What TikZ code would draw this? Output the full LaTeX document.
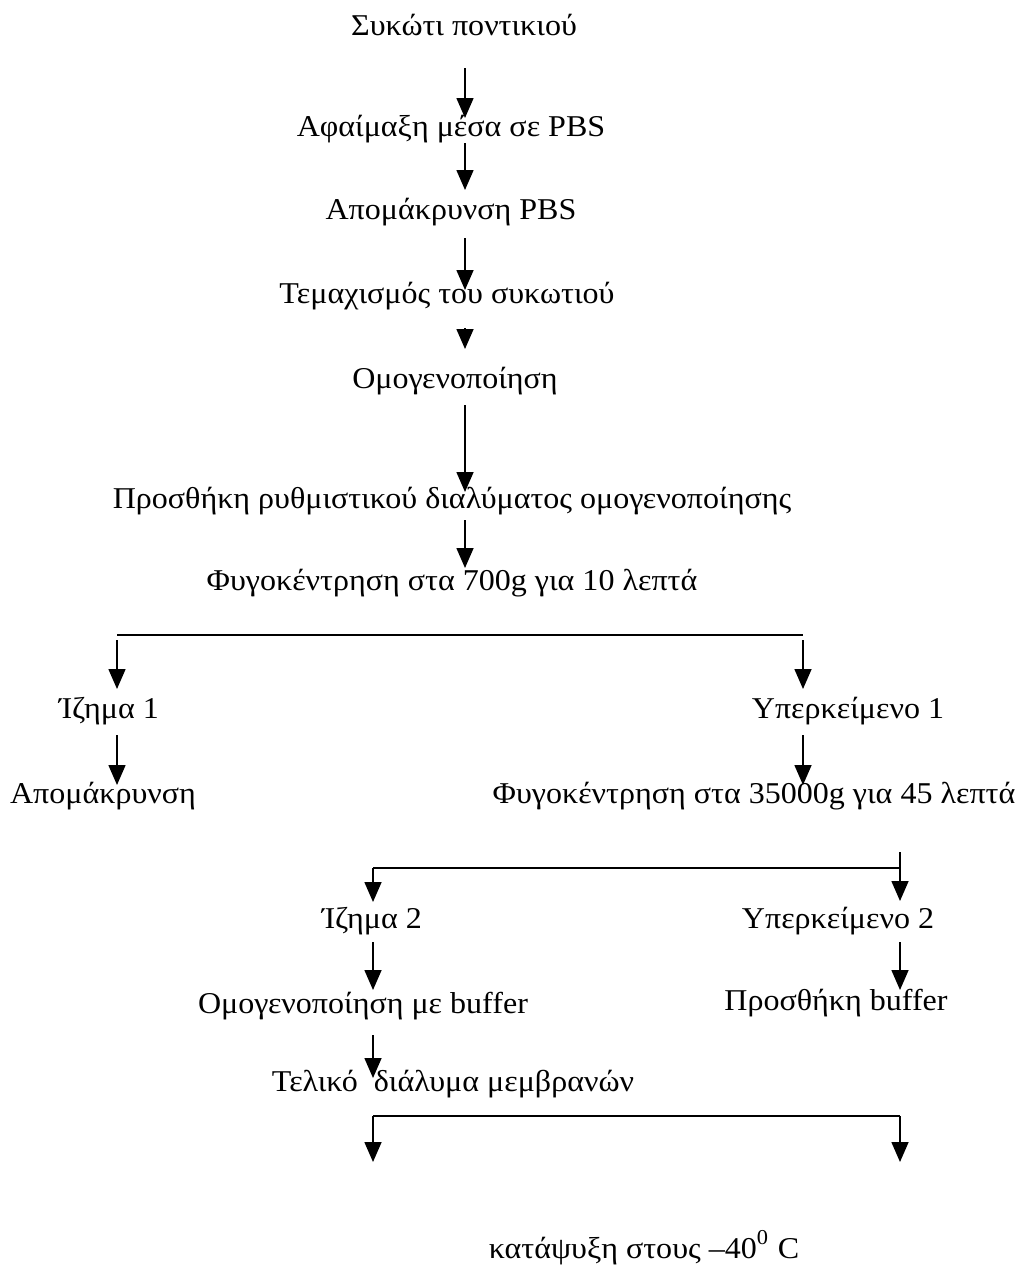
\documentclass[tikz,border=0pt]{standalone}
\usepackage{fontspec}
\setmainfont{Liberation Serif}[FakeStretch=1.06]
\usetikzlibrary{arrows.meta,calc}

\begin{document}
\begin{tikzpicture}[
    stage/.style={inner sep=0pt, text height=0.68em, text depth=0.22em, font=\fontsize{8.6}{10}\selectfont},
    flow/.style={-{Triangle[width=1.7mm,length=2.0mm]}, line width=0.45pt},
    bar/.style={line width=0.6pt}]

    \useasboundingbox (0,0) rectangle (10.19,-12.67);

    % columns of the arrows
    \coordinate (spine) at (4.65,0);
    \coordinate (lft) at (1.17,0);
    \coordinate (rgt) at (8.03,0);
    \coordinate (lft2) at (3.73,0);
    \coordinate (rgt2) at (9.00,0);

    % main line
    \node[stage] (sykoti) at (4.64,-0.27) {Συκώτι ποντικιού};
    \node[stage] (afaim) at (4.51,-1.28) {Αφαίμαξη μέσα σε PBS};
    \node[stage] (apom) at (4.51,-2.11) {Απομάκρυνση PBS};
    \node[stage] (temax) at (4.47,-2.95) {Τεμαχισμός του συκωτιού};
    \node[stage] (omog) at (4.55,-3.80) {Ομογενοποίηση};
    \node[stage] (prosth) at (4.52,-5.00) {Προσθήκη ρυθμιστικού διαλύματος ομογενοποίησης};
    \node[stage] (fyg1) at (4.52,-5.82) {Φυγοκέντρηση στα 700g για 10 λεπτά};

    \draw[flow] ($(sykoti -| spine)+(0,-0.41)$) -- ($(afaim -| spine)+(0,0.10)$);
    \draw[flow] ($(afaim -| spine)+(0,-0.15)$) -- ($(apom -| spine)+(0,0.21)$);
    \draw[flow] ($(apom -| spine)+(0,-0.27)$) -- ($(temax -| spine)+(0,0.05)$);
    \draw[flow] ($(temax -| spine)+(0,-0.33)$) -- ($(omog -| spine)+(0,0.31)$);
    \draw[flow] ($(omog -| spine)+(0,-0.25)$) -- ($(prosth -| spine)+(0,0.08)$);
    \draw[flow] ($(prosth -| spine)+(0,-0.20)$) -- ($(fyg1 -| spine)+(0,0.14)$);

    % first split
    \node[stage] (izima1) at (1.09,-7.10) {Ίζημα 1};
    \node[stage] (yperk1) at (8.48,-7.10) {Υπερκείμενο 1};
    \node[stage] (apomakr1) at (1.03,-7.95) {Απομάκρυνση};
    \node[stage] (fyg2) at (7.54,-7.95) {Φυγοκέντρηση στα 35000g για 45 λεπτά};

    \coordinate (bar1) at (0,-6.35);
    \draw[bar] (bar1 -| lft) -- (bar1 -| rgt);
    \draw[flow] ($(bar1 -| lft)+(0,-0.05)$) -- ($(izima1 -| lft)+(0,0.21)$);
    \draw[flow] ($(bar1 -| rgt)+(0,-0.05)$) -- ($(yperk1 -| rgt)+(0,0.21)$);
    \draw[flow] ($(izima1 -| lft)+(0,-0.25)$) -- ($(apomakr1 -| lft)+(0,0.10)$);
    \draw[flow] ($(yperk1 -| rgt)+(0,-0.25)$) -- ($(fyg2 -| rgt)+(0,0.10)$);

    % second split
    \node[stage] (izima2) at (3.72,-9.20) {Ίζημα 2};
    \node[stage] (yperk2) at (8.38,-9.20) {Υπερκείμενο 2};
    \node[stage] (omogbuf) at (3.63,-10.05) {Ομογενοποίηση με buffer};
    \node[stage] (prosbuf) at (8.36,-10.02) {Προσθήκη buffer};
    \node[stage] (teliko) at (4.53,-10.83) {Τελικό\ \ διάλυμα μεμβρανών};

    \coordinate (bar2) at (0,-8.68);
    \draw[bar] (bar2 -| lft2) -- (bar2 -| rgt2);
    \draw[flow] ($(fyg2 -| rgt2)+(0,-0.57)$) -- ($(yperk2 -| rgt2)+(0,0.19)$);
    \draw[flow] (bar2 -| lft2) -- ($(izima2 -| lft2)+(0,0.18)$);
    \draw[flow] ($(izima2 -| lft2)+(0,-0.22)$) -- ($(omogbuf -| lft2)+(0,0.15)$);
    \draw[flow] ($(yperk2 -| rgt2)+(0,-0.22)$) -- ($(prosbuf -| rgt2)+(0,0.12)$);
    \draw[flow] ($(omogbuf -| lft2)+(0,-0.30)$) -- ($(teliko -| lft2)+(0,0.05)$);

    % storage
    \coordinate (bar3) at (0,-11.16);
    \draw[bar] (bar3 -| lft2) -- (bar3 -| rgt2);
    \draw[flow] (bar3 -| lft2) -- ++(0,-0.46);
    \draw[flow] (bar3 -| rgt2) -- ++(0,-0.46);

    \node[stage] (katapsyxi) at (6.44,-12.50) {κατάψυξη στους –40\textsuperscript{0} C};

\end{tikzpicture}
\end{document}
